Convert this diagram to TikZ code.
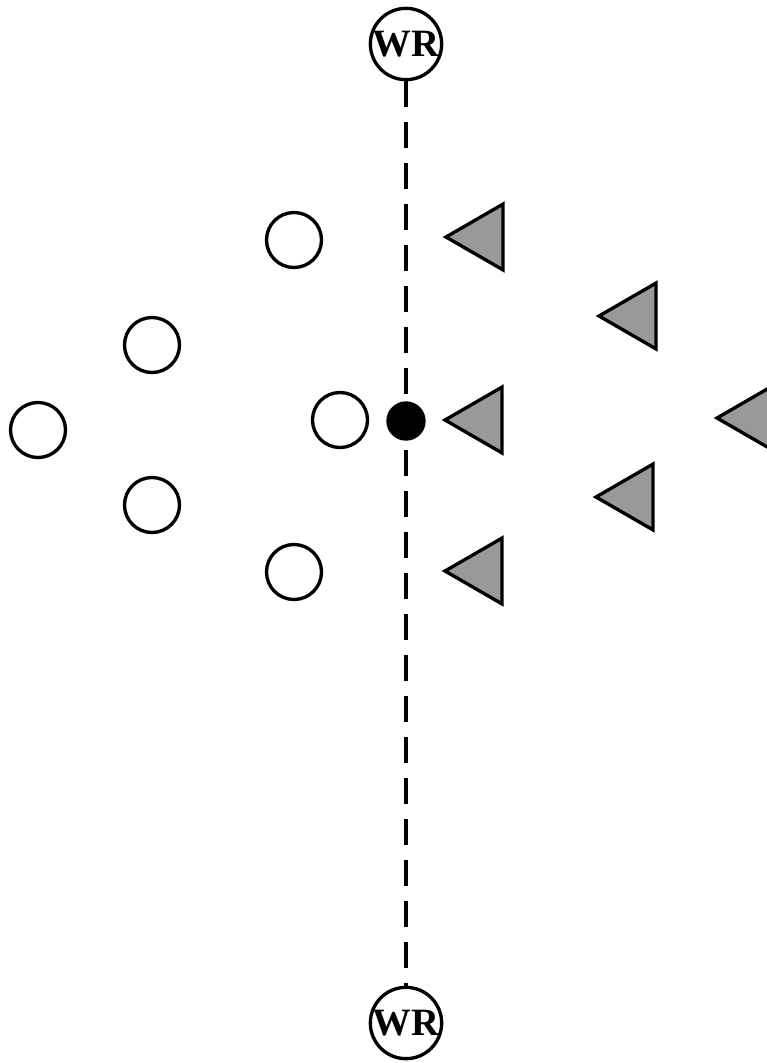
\documentclass[tikz,border=0pt]{standalone}
\usepackage{fontspec}
\setmainfont{Liberation Serif}
\usetikzlibrary{shapes.geometric}
\pgfdeclarelayer{background}
\pgfsetlayers{background,main}

\begin{document}
\begin{tikzpicture}[
  wr/.style={draw,line width=1.9pt,circle,minimum size=1.42cm,inner sep=0pt,font=\fontsize{22}{26}\selectfont\bfseries},
  opp/.style={draw,line width=1.9pt,circle,minimum size=1.1cm,inner sep=0pt},
  off/.style={draw,line width=1.9pt,fill=black!40,regular polygon,regular polygon sides=3,shape border rotate=90,minimum size=1.52cm,inner sep=0pt}]
\useasboundingbox (0,0) rectangle (15.34,-21.26);

\node[wr] (T) at (8.12,-0.88) {WR};
\node[wr] (U) at (8.12,-20.46) {WR};
\node[draw,line width=1.9pt,fill=black,circle,minimum size=0.72cm,inner sep=0pt] (F) at (8.12,-8.42) {};

\node[opp] (D1) at (5.88,-4.80) {};
\node[opp] (D2) at (3.04,-6.90) {};
\node[opp] (D3) at (0.76,-8.60) {};
\node[opp] (D4) at (6.80,-8.40) {};
\node[opp] (D5) at (3.04,-10.10) {};
\node[opp] (D6) at (5.88,-11.44) {};

\node[off] (O1) at (9.68,-4.74) {};
\node[off] (O2) at (12.74,-6.32) {};
\node[off] (O3) at (9.66,-8.40) {};
\node[off] (O4) at (15.10,-8.36) {};
\node[off] (O5) at (12.68,-9.94) {};
\node[off] (O6) at (9.66,-11.42) {};

\begin{pgfonlayer}{background}
\draw[line width=1.9pt,dash pattern=on 0.52cm off 0.3cm] (T) -- (U);
\end{pgfonlayer}
\end{tikzpicture}
\end{document}
